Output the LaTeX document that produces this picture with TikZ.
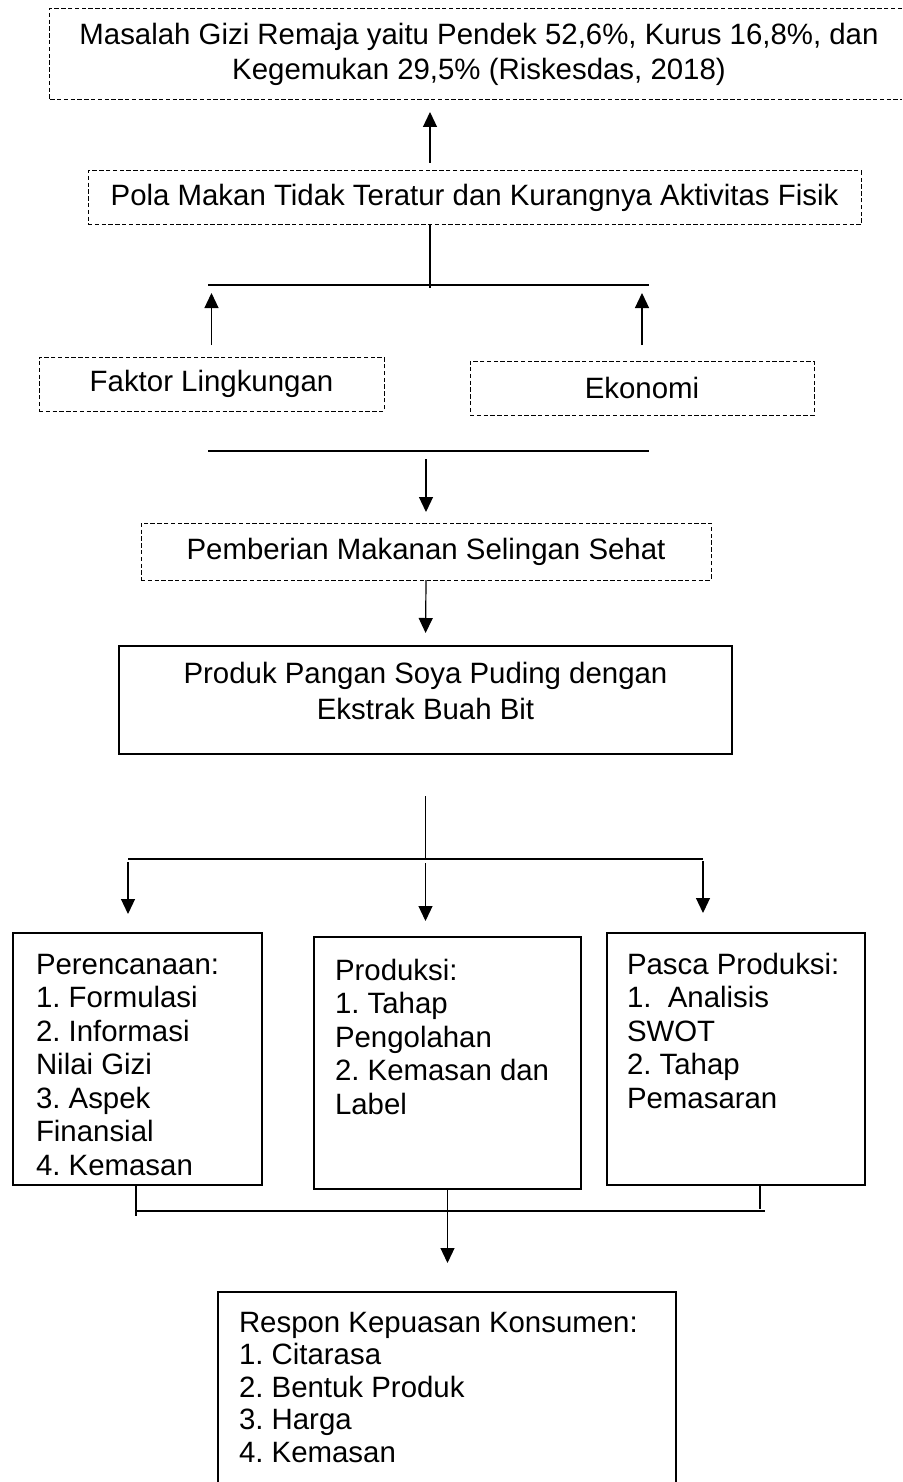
\documentclass[tikz,border=0pt]{standalone}
\usepackage{fontspec}
\setmainfont{Liberation Sans}
\usetikzlibrary{arrows.meta}
\frenchspacing

\begin{document}
\begin{tikzpicture}[
        x=0.5pt, y=-0.5pt,
        line width=0.6pt,
        every node/.style={font=\fontsize{14.7pt}{17.5pt}\selectfont, outer sep=0pt},
        dline/.style={dash pattern=on 2.2pt off 1.2pt, line width=0.5pt},
        dbox/.style={draw, dline, minimum height=27pt, align=center},
        lbox/.style={draw, anchor=north west, align=flush left, inner ysep=0pt, font=\fontsize{14.7pt}{16.75pt}\selectfont},
        arr/.style={-{Triangle[length=7.5pt, width=7pt]}},
    ]
    \useasboundingbox (0,0) rectangle (902,1482);
    \coordinate (edge) at (902,0);
    \node[dbox, draw=none, minimum width=430pt, minimum height=45.5pt] (masalah) at (479,54.5) {Masalah Gizi Remaja yaitu Pendek 52,6\%, Kurus 16,8\%, dan\\Kegemukan 29,5\% (Riskesdas, 2018)};
    \draw[dline] (masalah.north -| edge) -- (masalah.north west) -- (masalah.south west) -- (masalah.south -| edge);
    \node[dbox, minimum width=386.5pt] (pola) at (474.5,198) {Pola Makan Tidak Teratur dan Kurangnya Aktivitas Fisik};
    \node[dbox, minimum width=172.5pt] (faktor) at (211.5,384) {Faktor Lingkungan};
    \node[dbox, minimum width=172pt] (ekonomi) at (642,388) {Ekonomi};
    \node[dbox, minimum width=285pt, minimum height=28.5pt] (pemberian) at (426,551.5) {Pemberian Makanan Selingan Sehat};
    \node[draw, anchor=north, align=flush center, inner sep=0pt, text width=306.5pt, text height=18.5pt, text depth=35.5pt, font=\fontsize{14.7pt}{18pt}\selectfont] (produk) at (425.5,646) {Produk Pangan Soya Puding dengan\\Ekstrak Buah Bit};
    \node[lbox, inner xsep=11.5pt, text width=101.5pt, text height=20.5pt, text depth=105.5pt] (perencanaan) at (13,933) {Perencanaan:\\1. Formulasi\\2. Informasi\\Nilai Gizi\\3. Aspek\\Finansial\\4. Kemasan};
    \node[lbox, inner xsep=10.5pt, text width=112.5pt, text height=21.5pt, text depth=104.5pt] (produksi) at (314,937) {Produksi:\\1. Tahap\\Pengolahan\\2. Kemasan~dan\\Label};
    \node[lbox, inner xsep=10pt, text width=109pt, text height=20.5pt, text depth=105.5pt] (pasca) at (607,933) {Pasca Produksi:\\1.~~Analisis\\SWOT\\2. Tahap\\Pemasaran};
    \node[lbox, draw=none, inner xsep=10.5pt, text width=208pt, text height=20pt, text depth=75pt, font=\fontsize{14.7pt}{16.25pt}\selectfont] (respon) at (218,1292) {Respon Kepuasan Konsumen:\\1. Citarasa\\2. Bentuk Produk\\3. Harga\\4. Kemasan};
    \draw (respon.south west) -- (respon.north west) -- (respon.north east) -- (respon.south east);

    \coordinate (bar1l) at (208,285);
    \coordinate (bar1r) at (649,285);
    \coordinate (spine1) at (430,288);
    \draw (bar1l) -- (bar1r);
    \draw (spine1 |- pola.south) -- (spine1);
    \draw[arr, shorten <=4pt, shorten >=6pt] (spine1 |- pola.north) -- (spine1 |- masalah.south);
    \draw[arr, shorten <=6pt, shorten >=4pt] (faktor.north) -- (faktor.north |- bar1l);
    \draw[arr, shorten <=8pt, shorten >=4pt] (ekonomi.north) -- (ekonomi.north |- bar1r);

    \coordinate (bar2l) at (208,451);
    \coordinate (bar2r) at (649,451);
    \draw (bar2l) -- (bar2r);
    \draw[arr, shorten <=4pt, shorten >=5.5pt] (pemberian.north |- bar2l) -- (pemberian.north);
    \draw[arr, shorten >=6.5pt] (pemberian.south) -- (produk.north);

    \coordinate (bar3l) at (128,859);
    \coordinate (bar3r) at (703,859);
    \draw (bar3l) -- (bar3r);
    \draw[shorten <=21pt] (produk.south) -- (produk.south |- bar3l);
    \draw[arr, shorten <=1.5pt, shorten >=9.5pt] (bar3l) -- (bar3l |- perencanaan.north);
    \draw[arr, shorten <=2pt, shorten >=8pt] (produk.south |- bar3l) -- (produk.south |- produksi.north);
    \draw[arr, shorten <=1pt, shorten >=10pt] (bar3r) -- (bar3r |- pasca.north);

    \coordinate (bar4l) at (136,1211);
    \coordinate (bar4r) at (765,1211);
    \coordinate (tick4l) at (136,1216);
    \coordinate (tick4r) at (760,1209);
    \draw (bar4l) -- (bar4r);
    \draw (tick4l |- perencanaan.south) -- (tick4l);
    \draw (tick4r |- pasca.south) -- (tick4r);
    \draw[arr, shorten >=14.5pt] (produksi.south) -- (produksi.south |- respon.north);
\end{tikzpicture}
\end{document}
